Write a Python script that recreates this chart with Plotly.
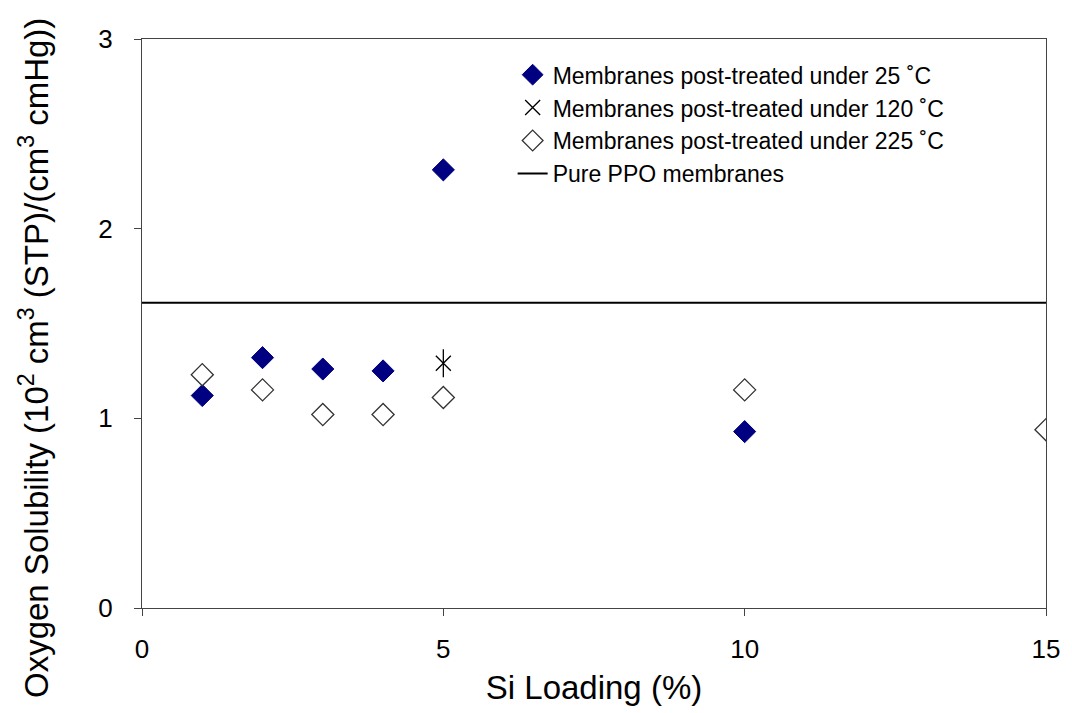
import plotly.graph_objects as go

x25 = [1, 2, 3, 4, 5, 10]
y25 = [1.12, 1.32, 1.26, 1.25, 2.31, 0.93]
x120 = [5]
y120 = [1.29]
x225 = [1, 2, 3, 4, 5, 10, 15]
y225 = [1.23, 1.15, 1.02, 1.02, 1.11, 1.15, 0.94]
ppo_x = [0, 15]
ppo_y = [1.61, 1.61]
yticks = [0, 1, 2, 3]
xticks = [0, 5, 10, 15]
y_title = "Oxygen Solubility (10<sup>2</sup> cm<sup>3</sup> (STP)/(cm<sup>3</sup> cmHg))"

font = "Liberation Sans, Arial, sans-serif"
fig = go.Figure()
fig.add_trace(go.Scatter(x=x25, y=y25, mode="markers", name="Membranes post-treated under 25 ˚C",
                         marker=dict(symbol="diamond", size=17, color="#000080",
                                     line=dict(color="#000080", width=1))))
fig.add_trace(go.Scatter(x=x120, y=y120, mode="markers", name="Membranes post-treated under 120 ˚C",
                         legendgroup="g120",
                         marker=dict(symbol="x-thin-open", size=15, color="#000000",
                                     line=dict(color="#000000", width=1.3))))
fig.add_trace(go.Scatter(x=x120, y=y120, mode="markers", showlegend=False, legendgroup="g120",
                         marker=dict(symbol="line-ns-open", size=20, color="#000000",
                                     line=dict(color="#000000", width=1.3))))
fig.add_trace(go.Scatter(x=x225, y=y225, mode="markers", name="Membranes post-treated under 225 ˚C",
                         marker=dict(symbol="diamond", size=17, color="white",
                                     line=dict(color="#333333", width=1.3))))
fig.add_trace(go.Scatter(x=ppo_x, y=ppo_y, mode="lines", name="Pure PPO membranes",
                         line=dict(color="black", width=2)))

fig.update_layout(
    width=1072, height=713,
    margin=dict(l=142, r=22, t=39, b=105),
    paper_bgcolor="white", plot_bgcolor="white",
    font=dict(family=font, size=23, color="black"),
    showlegend=True,
    legend=dict(x=0.41, y=0.975, xanchor="left", yanchor="top",
                bgcolor="rgba(0,0,0,0)", font=dict(size=23), tracegroupgap=0,
                itemwidth=30),
    xaxis=dict(range=[0, 15], tickvals=xticks, ticks="outside", ticklen=7,
               tickcolor="#444", showline=True, linecolor="#444", linewidth=1, mirror=True,
               showgrid=False, zeroline=False, ticklabelstandoff=11,
               tickfont=dict(size=26),
               title=dict(text="Si Loading (%)", font=dict(size=33), standoff=12)),
    yaxis=dict(range=[0, 3], tickvals=yticks, ticks="outside", ticklen=23,
               tickcolor="rgba(0,0,0,0)", showline=True, linecolor="#444", linewidth=1, mirror=True,
               showgrid=False, zeroline=False,
               minor=dict(tickvals=yticks, ticks="outside", ticklen=7, tickcolor="#444",
                          showgrid=False),
               tickfont=dict(size=26)),
    annotations=[dict(text=y_title, xref="paper", yref="paper", x=-0.0947, y=0.44,
                      xanchor="right", yanchor="middle", textangle=-90, showarrow=False,
                      font=dict(size=33, family=font, color="black"))],
)
fig.write_html("out.html")
